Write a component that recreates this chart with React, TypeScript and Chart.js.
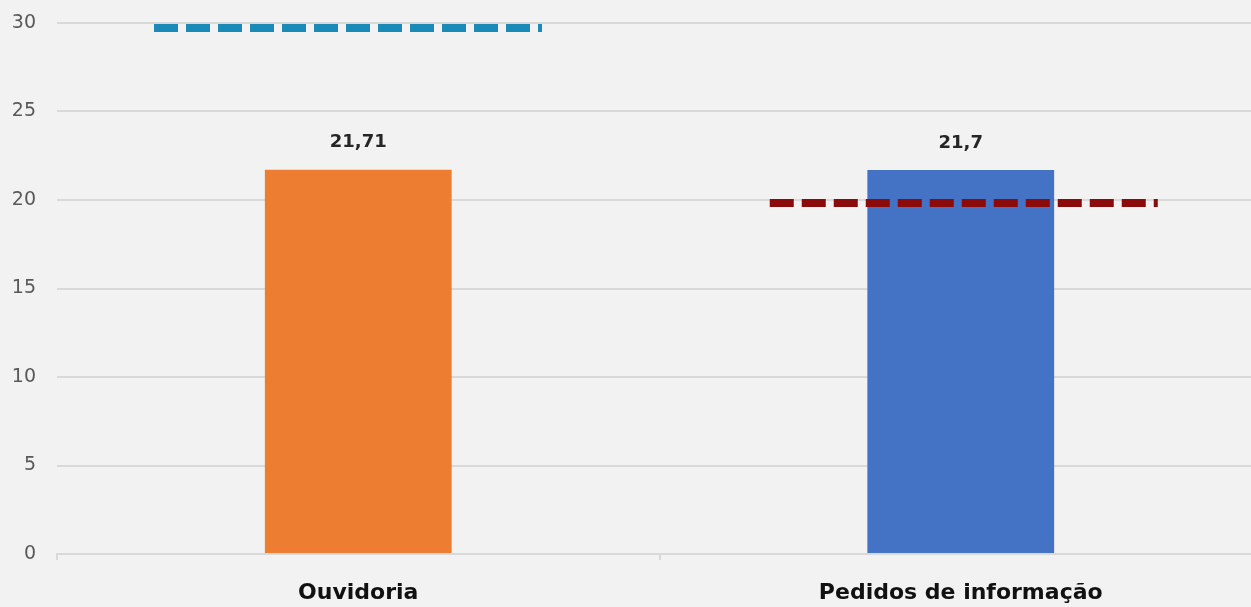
import React, { useEffect, useRef } from "react";
import { Chart, registerables } from "chart.js";

Chart.register(...registerables);

const categories = ["Ouvidoria", "Pedidos de informação"];
const values = [21.71, 21.7];
const barColors = ["#ED7D31", "#4472C4"];
const yTicks = [0, 5, 10, 15, 20, 25, 30];

// reference (dashed) lines: [xStart, xEnd] in category-index units, and level
const blueLineX = [-0.339, 0.305];
const blueLineY = 29.72;
const redLineX = [0.683, 1.327];
const redLineY = 19.83;

const FONT = "'DejaVu Sans', sans-serif";

const valueLabels = {
  id: "valueLabels",
  afterDatasetsDraw(chart: any) {
    const ctx = chart.ctx;
    const meta = chart.getDatasetMeta(0);
    ctx.save();
    ctx.font = `bold 18px ${FONT}`;
    ctx.fillStyle = "#262626";
    ctx.textAlign = "center";
    ctx.textBaseline = "middle";
    meta.data.forEach((el: any, i: number) => {
      ctx.fillText(String(values[i]).replace(".", ","), el.x, el.y - 27);
    });
    ctx.restore();
  },
};

export default function App() {
  const ref = useRef<HTMLCanvasElement | null>(null);
  useEffect(() => {
    if (!ref.current) return;
    const chart = new Chart(ref.current, {
      type: "bar",
      data: {
        datasets: [
          {
            type: "bar",
            data: values.map((v, i) => ({ x: i, y: v })),
            backgroundColor: barColors,
            barPercentage: 0.31,
            categoryPercentage: 1,
            order: 2,
          } as any,
          {
            type: "line",
            data: [
              { x: blueLineX[0], y: blueLineY },
              { x: blueLineX[1], y: blueLineY },
            ],
            borderColor: "#1A8AB8",
            borderWidth: 8,
            borderDash: [24, 8],
            borderCapStyle: "butt",
            pointRadius: 0,
            fill: false,
            order: 1,
          } as any,
          {
            type: "line",
            data: [
              { x: redLineX[0], y: redLineY },
              { x: redLineX[1], y: redLineY },
            ],
            borderColor: "#8B0A0A",
            borderWidth: 8,
            borderDash: [24, 8],
            borderCapStyle: "butt",
            pointRadius: 0,
            fill: false,
            order: 1,
          } as any,
        ],
      },
      options: {
        animation: false,
        responsive: false,
        maintainAspectRatio: false,
        layout: { padding: { top: 23, right: 8, left: 0, bottom: 0 } },
        plugins: {
          legend: { display: false },
          tooltip: { enabled: false },
        },
        scales: {
          x: {
            type: "linear",
            min: -0.5,
            max: 1.5,
            offset: false,
            afterBuildTicks(scale: any) {
              scale.ticks = categories.map((_, i) => ({ value: i }));
            },
            grid: {
              display: true,
              offset: true,
              drawOnChartArea: false,
              drawTicks: true,
              tickLength: 6,
              color: "#D9D9D9",
              lineWidth: 2,
            },
            border: { display: true, color: "#D9D9D9", width: 2 },
            ticks: {
              color: "#111111",
              padding: 20,
              autoSkip: false,
              maxRotation: 0,
              callback: (v: any) => categories[Math.round(Number(v))] ?? "",
              font: { family: FONT, size: 22, weight: "bold" },
            },
            afterFit(scale: any) {
              scale.height = 53;
              scale.paddingLeft = 0;
              scale.paddingRight = 0;
            },
          },
          y: {
            min: 0,
            max: 30,
            afterBuildTicks(scale: any) {
              scale.ticks = yTicks.map((v) => ({ value: v }));
            },
            grid: { color: "#D9D9D9", lineWidth: 2, drawTicks: false },
            border: { display: false },
            ticks: {
              color: "#595959",
              padding: 21,
              font: { family: FONT, size: 19 },
            },
            afterFit(scale: any) {
              scale.width = 57;
              scale.paddingTop = 0;
              scale.paddingBottom = 0;
            },
          },
        },
      } as any,
      plugins: [valueLabels],
    });
    return () => chart.destroy();
  }, []);

  return (
    <div
      style={{
        position: "fixed",
        left: 0,
        top: 0,
        width: 1270,
        height: 607,
        background: "#F2F2F2",
        overflow: "hidden",
      }}
    >
      <canvas ref={ref} width={1270} height={607} style={{ display: "block" }} />
    </div>
  );
}
